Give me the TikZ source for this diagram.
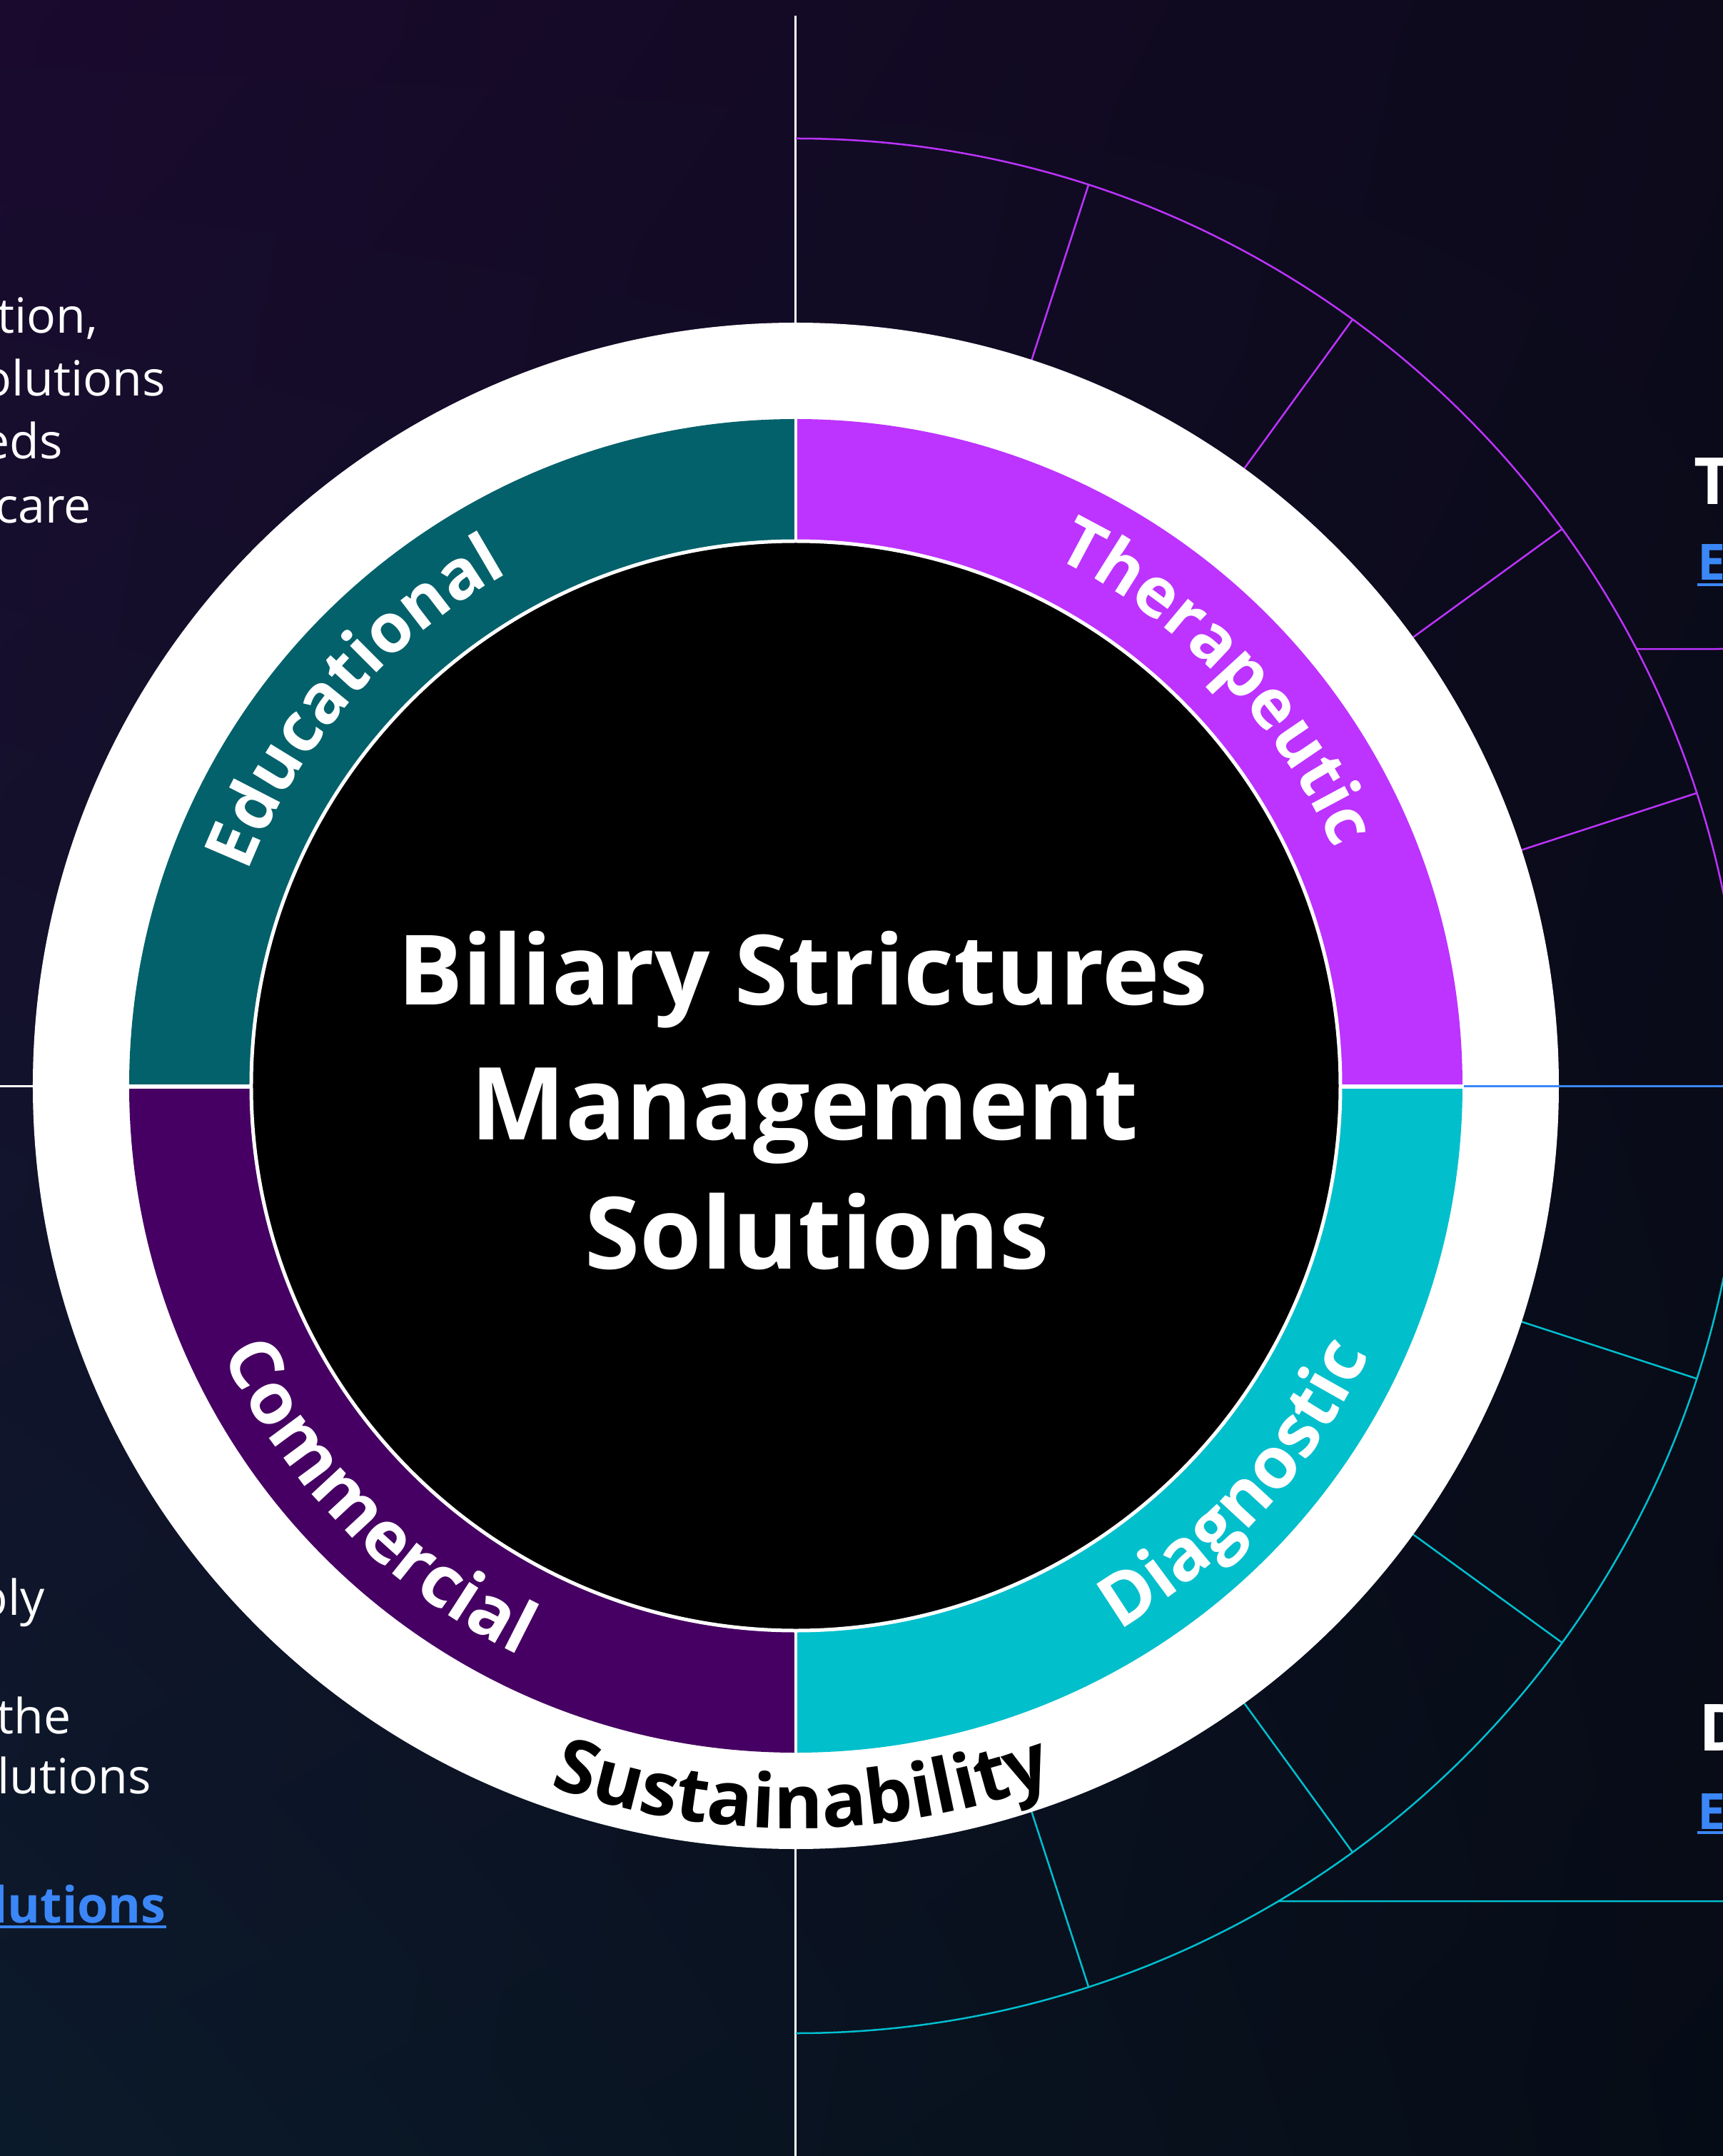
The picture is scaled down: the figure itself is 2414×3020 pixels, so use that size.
\documentclass[tikz,border=0pt]{standalone}
\usepackage{fontspec}
\setmainfont{Open Sans}
\usetikzlibrary{decorations.text,shadings}
\definecolor{bgUL}{HTML}{1A0A2E}
\definecolor{bgUR}{HTML}{0C0A1B}
\definecolor{bgLL}{HTML}{0B1A2A}
\definecolor{bgLR}{HTML}{060C16}
\definecolor{segTeal}{HTML}{03616B}
\definecolor{segPurple}{HTML}{BD33FF}
\definecolor{segCyan}{HTML}{02BFCC}
\definecolor{segPlum}{HTML}{460063}
\definecolor{linkBlue}{HTML}{3B87F7}
\definecolor{tickPurple}{HTML}{BD33FF}
\definecolor{tickCyan}{HTML}{00BFD0}
\newcommand\ringfonttop{\bfseries\fontsize{96}{96}\selectfont}
\newcommand\ringfontbot{\bfseries\fontsize{101}{101}\selectfont}
\newcommand\susfont{\bfseries\fontsize{105}{105}\selectfont}
\newcommand\bodyfont{\fontsize{68}{68}\selectfont}
\newcommand\headfont{\bfseries\fontsize{91}{91}\selectfont}
\newcommand\linkfont{\bfseries\fontsize{70}{70}\selectfont}
\begin{document}
\begin{tikzpicture}[x=1pt,y=1pt,
  thinwhite/.style={draw=white,line width=3},
  purpleline/.style={draw=tickPurple,line width=2.5},
  cyanline/.style={draw=tickCyan,line width=2.5},
  bodytext/.style={text=white,font=\bodyfont,inner sep=0,anchor=base east},
  centertext/.style={text=white,inner sep=0,anchor=base},
  headtext/.style={text=white,font=\headfont,inner sep=0,anchor=base west},
  linktext/.style={text=linkBlue,font=\linkfont,inner sep=0},
  underline/.style={draw=linkBlue,line width=4},
  ringlabel/.style={decorate,decoration={text along path,text align=center,text color=white}},
]
\useasboundingbox (-1115,-1499) rectangle (1299,1521);
\clip (-1115,-1499) rectangle (1299,1521);
\shade[upper left=bgUL,upper right=bgUR,lower left=bgLL,lower right=bgLR] (-1115,-1499) rectangle (1299,1521);

% guide lines
\draw[thinwhite] (0,1499) -- (0,-1499);
\draw[thinwhite] (-1115,0) -- (0,0);

% purple arc with ticks
\draw[purpleline] (90:1327) arc[start angle=90,end angle=0,radius=1327];
\foreach \a in {18,36,54,72} \draw[purpleline] (\a:1069) -- (\a:1327);
\coordinate (pj) at (27.46:1327);
\draw[purpleline] (pj) -- (1299,612);

% cyan arc with ticks
\draw[cyanline] (-90:1327) arc[start angle=-90,end angle=0,radius=1327];
\foreach \a in {-18,-36,-54,-72} \draw[cyanline] (\a:1069) -- (\a:1327);
\coordinate (cj) at (-59.4:1327);
\draw[cyanline] (cj) -- (1299,-1142);

% white outer disc
\fill[white] (0,0) circle[radius=1069];
\draw[draw=linkBlue,line width=3] (936,0) -- (1299,0);

% coloured ring
\fill[segTeal] (180:934) arc[start angle=180,end angle=90,radius=934] -- (90:765) arc[start angle=90,end angle=180,radius=765] -- cycle;
\fill[segPurple] (90:934) arc[start angle=90,end angle=0,radius=934] -- (0:765) arc[start angle=0,end angle=90,radius=765] -- cycle;
\fill[segCyan] (0:934) arc[start angle=0,end angle=-90,radius=934] -- (-90:765) arc[start angle=-90,end angle=0,radius=765] -- cycle;
\fill[segPlum] (-90:934) arc[start angle=-90,end angle=-180,radius=934] -- (-180:765) arc[start angle=-180,end angle=-90,radius=765] -- cycle;
\draw[white,line width=6] (-936,-1) -- (936,-1);
\draw[white,line width=4] (0,-936) -- (0,936);

% black centre
\filldraw[fill=black,draw=white,line width=5] (0,0) circle[radius=763];

% ring labels
\path[ringlabel,decoration={text={|\ringfonttop|Educational}}] (179:824) arc[start angle=179,end angle=99,radius=824];
\path[ringlabel,decoration={text={|\ringfonttop|Therapeutic}}] (83.8:824) arc[start angle=83.8,end angle=3.8,radius=824];
\path[ringlabel,decoration={text={|\ringfontbot|Diagnostic}}] (-82.2:887) arc[start angle=-82.2,end angle=-2.2,radius=887];
\path[ringlabel,decoration={text={|\ringfontbot|Commercial}}] (-175.4:887) arc[start angle=-175.4,end angle=-95.4,radius=887];
\path[decorate,decoration={text along path,text align=center,text color=black,text={|\susfont|Sustainability}}] (-129.5:1040) arc[start angle=-129.5,end angle=-49.5,radius=1040];

% centre title
\node[centertext,font=\bfseries\fontsize{136}{136}\selectfont] (title1) at (10,114) {Biliary Strictures};
\node[centertext,font=\bfseries\fontsize{141}{141}\selectfont] (title2) at (12,-75) {Management};
\node[centertext,font=\bfseries\fontsize{140}{140}\selectfont] (title3) at (30,-256) {Solutions};

% left body text fragments
\node[bodytext] (l1) at (-978,1054) {tion,};
\node[bodytext] (l2) at (-883,966) {olutions};
\node[bodytext] (l3) at (-1027,878) {eds};
\node[bodytext] (l4) at (-987,788) {care};
\node[bodytext] (l5) at (-1052,-741) {ply};
\node[bodytext] (l6) at (-1015,-907) {the};
\node[bodytext] (l7) at (-903,-991) {lutions};
\node[linktext,anchor=base east] (l8) at (-882,-1172) {lutions};
\draw[underline] (-1115,-1178) -- (l8.base east |- 0,-1178);

% right headings
\node[headtext] (r1) at (1258,814) {T};
\node[linktext,anchor=base west] (r2) at (1263,708) {E};
\draw[underline] (r2.base west |- 0,702) -- (1299,702);
\node[headtext] (r3) at (1265,-931) {D};
\node[linktext,anchor=base west] (r4) at (1263,-1041) {E};
\draw[underline] (r4.base west |- 0,-1046) -- (1299,-1046);
\end{tikzpicture}
\end{document}
